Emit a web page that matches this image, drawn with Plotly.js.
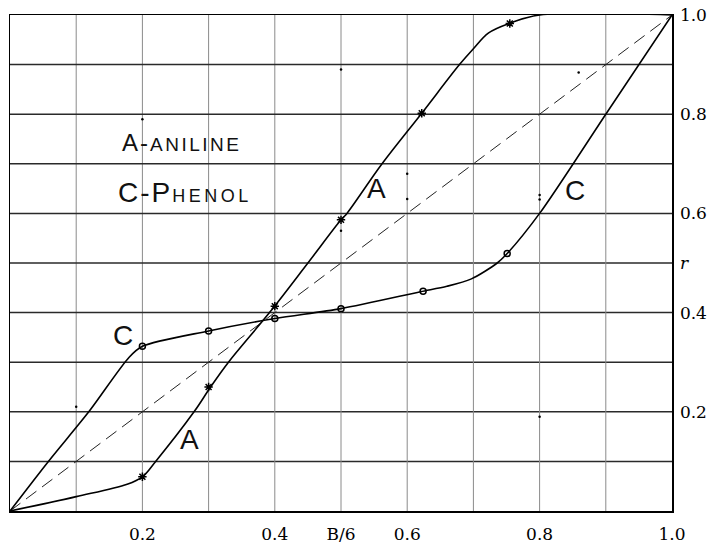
<!DOCTYPE html>
<html>
<head>
<meta charset="utf-8">
<script src="https://cdn.plot.ly/plotly-3.0.1.min.js"></script>
<style>html,body{margin:0;padding:0;background:#fff;}#chart{width:711px;height:544px;}</style>
</head>
<body>
<div id="chart"></div>
<script>
// Curve A (Aniline) drawn line
const aCurveX = [0, 0.1, 0.177, 0.2, 0.22, 0.278, 0.303, 0.33, 0.392, 0.45, 0.5, 0.509, 0.562, 0.622, 0.679, 0.7, 0.723, 0.754, 0.8, 1.0];
const aCurveY = [0, 0.029, 0.054, 0.069, 0.1, 0.2, 0.25, 0.3, 0.4, 0.5, 0.587, 0.6, 0.7, 0.802, 0.9, 0.932, 0.964, 0.983, 1.0, 1.0];
// Aniline measured points
const aPointX = [0.2, 0.3, 0.4, 0.5, 0.622, 0.755];
const aPointY = [0.069, 0.25, 0.413, 0.587, 0.802, 0.983];
// Curve C (Phenol) drawn line
const cCurveX = [0, 0.058, 0.119, 0.18, 0.2, 0.3, 0.4, 0.5, 0.62, 0.66, 0.697, 0.736, 0.751, 0.8, 0.9, 1.0];
const cCurveY = [0, 0.1, 0.2, 0.31, 0.332, 0.363, 0.388, 0.408, 0.442, 0.453, 0.468, 0.5, 0.519, 0.6, 0.8, 1.0];
// Phenol measured points
const cPointX = [0.2, 0.3, 0.4, 0.5, 0.624, 0.751];
const cPointY = [0.332, 0.363, 0.388, 0.408, 0.443, 0.519];
// Diagonal reference
const diagX = [0, 1];
const diagY = [0, 1];
// Stray specks on the sheet
const speckX = [0.1, 0.2, 0.5, 0.5, 0.6, 0.6, 0.8, 0.8, 0.859, 0.8];
const speckY = [0.21, 0.79, 0.89, 0.565, 0.68, 0.629, 0.637, 0.628, 0.884, 0.19];
// Tick labels
const xTickVals = [0.2, 0.4, 0.5, 0.6, 0.8, 1.0];
const xTickText = ['0.2', '0.4', 'B/6', '0.6', '0.8', '1.0'];
const yTickVals = [0.2, 0.4, 0.5, 0.6, 0.8, 1.0];
const yTickText = ['0.2', '0.4', '<i>r</i>', '0.6', '0.8', '1.0'];
const gridVals = [0.1,0.2,0.3,0.4,0.5,0.6,0.7,0.8,0.9];

const letterFont = {family: 'Liberation Sans Narrow, Liberation Sans, sans-serif', color: '#111', weight: 300};

const traces = [
  {x: diagX, y: diagY, mode: 'lines', line: {color: '#222', width: 1, dash: '13px,7px'}, hoverinfo: 'skip'},
  {x: aCurveX, y: aCurveY, mode: 'lines', line: {color: '#000', width: 1.6, shape: 'spline', smoothing: 1}},
  {x: cCurveX, y: cCurveY, mode: 'lines', line: {color: '#000', width: 1.6, shape: 'spline', smoothing: 0.8}},
  {x: aPointX, y: aPointY, mode: 'markers', marker: {symbol: 'asterisk-open', size: 7, color: '#000', line: {color: '#000', width: 1.5}}},
  {x: cPointX, y: cPointY, mode: 'markers', marker: {symbol: 'circle-open', size: 6, color: '#000', line: {color: '#000', width: 1.5}}},
  {x: speckX, y: speckY, mode: 'markers', marker: {symbol: 'circle', size: 2.5, color: '#000'}}
];

const ann = [
  {x: 0.166, y: 0.742, xanchor: 'left', yanchor: 'middle', showarrow: false,
   text: '<span style="letter-spacing:2px">A-</span><span style="font-size:19px;letter-spacing:2.5px">ANILINE</span>', font: Object.assign({size: 24}, letterFont)},
  {x: 0.16, y: 0.643, xanchor: 'left', yanchor: 'middle', showarrow: false,
   text: '<span style="letter-spacing:2px">C-P</span><span style="font-size:18px;letter-spacing:3.5px">HENOL</span>', font: Object.assign({size: 28}, letterFont)},
  {x: 0.554, y: 0.65, showarrow: false, text: 'A', font: Object.assign({size: 28}, letterFont)},
  {x: 0.271, y: 0.145, showarrow: false, text: 'A', font: Object.assign({size: 28}, letterFont)},
  {x: 0.171, y: 0.353, showarrow: false, text: 'C', font: Object.assign({size: 28}, letterFont)},
  {x: 0.853, y: 0.646, showarrow: false, text: 'C', font: Object.assign({size: 28}, letterFont)}
];

const shapes = [];
gridVals.forEach(v => {
  shapes.push({type: 'line', xref: 'x', yref: 'y', x0: v, x1: v, y0: 0, y1: 1, line: {color: '#8a8a8a', width: 1}, layer: 'below'});
  shapes.push({type: 'line', xref: 'x', yref: 'y', x0: 0, x1: 1, y0: v, y1: v, line: {color: '#2a2a2a', width: 1.5}, layer: 'below'});
});

const layout = {
  width: 711, height: 544,
  margin: {l: 10, r: 39, t: 15, b: 33},
  paper_bgcolor: '#fff', plot_bgcolor: '#fff',
  showlegend: false,
  font: {family: 'DejaVu Serif, serif', size: 17, color: '#000'},
  xaxis: {range: [0, 1], showgrid: false, zeroline: false, showline: true, mirror: true, linecolor: '#000', linewidth: 1.5,
          tickmode: 'array', tickvals: xTickVals, ticktext: xTickText, ticks: '', ticklabelstandoff: 7, fixedrange: true},
  yaxis: {range: [0, 1], side: 'right', showgrid: false, zeroline: false, showline: true, mirror: true, linecolor: '#000', linewidth: 1.5,
          tickmode: 'array', tickvals: yTickVals, ticktext: yTickText, ticks: '', ticklabelstandoff: 3, fixedrange: true},
  annotations: ann,
  shapes: shapes
};

Plotly.newPlot('chart', traces, layout, {staticPlot: true, displayModeBar: false});
</script>
</body>
</html>
